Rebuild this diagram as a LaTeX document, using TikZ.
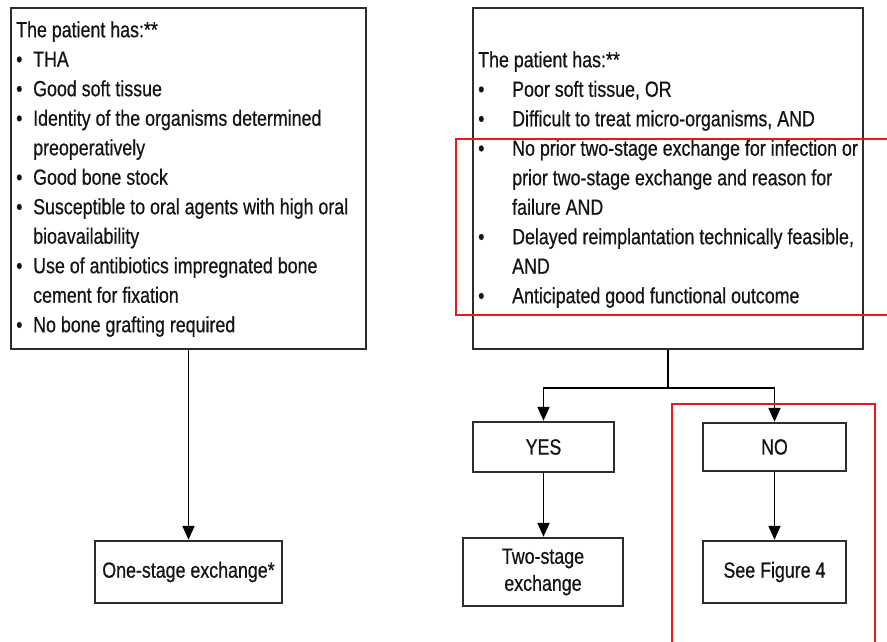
\documentclass[tikz,border=0pt]{standalone}
\usepackage{fontspec}
\setmainfont{Liberation Sans}[FakeStretch=0.81, FakeBold=0.6]
\usepackage{tikz}
\usetikzlibrary{arrows.meta}

\definecolor{boxline}{RGB}{45,45,45}
\definecolor{txt}{RGB}{20,20,20}
\definecolor{mark}{RGB}{238,22,22}

\newlength{\bind}
\newcommand{\listsetup}[1]{\raggedright\spaceskip=0pt\xspaceskip=0pt\hyphenpenalty=10000\relax\setlength{\bind}{#1}}
\newcommand{\bitem}[1]{\par\noindent\hangindent=\bind\hangafter=1\makebox[\bind][l]{\textbullet}#1}

\begin{document}
\begin{tikzpicture}[x=1pt, y=-1pt,
    box/.style={draw=boxline, line width=2.4pt, rectangle, inner sep=0pt},
    listtext/.style={text=txt, inner sep=0pt, anchor=north west, align=left, text width=430,
        font=\fontsize{22}{29.5}\selectfont},
    boxtext/.style={box, text=txt, align=center, font=\fontsize{22}{27}\selectfont},
    arr/.style={draw=black, line width=1.9pt, -{Triangle[length=14pt,width=12pt]}},
    conn/.style={draw=black, line width=1.9pt},
    highlight/.style={draw=mark, line width=2.8pt}]
    \useasboundingbox (0,0) rectangle (887,642);
    \clip (0,0) rectangle (887,642);
    \node[box, minimum width=355, minimum height=341] (crit1) at (188.5,178.5) {};
    \node[listtext] (crit1txt) at (16,16.4) {\listsetup{17pt}\strut The patient has:**
        \bitem{THA}
        \bitem{Good soft tissue}
        \bitem{Identity of the organisms determined\newline preoperatively}
        \bitem{Good bone stock}
        \bitem{Susceptible to oral agents with high oral\newline bioavailability}
        \bitem{Use of antibiotics impregnated bone\newline cement for fixation}
        \bitem{No bone grafting required}};
    \node[box, minimum width=390, minimum height=341] (crit2) at (668,178.5) {};
    \node[listtext] (crit2txt) at (478,46.4) {\listsetup{34pt}\strut The patient has:**
        \bitem{Poor soft tissue, OR}
        \bitem{Difficult to treat micro-organisms, AND}
        \bitem{No prior two-stage exchange for infection or\newline prior two-stage exchange and reason for\newline failure AND}
        \bitem{Delayed reimplantation technically feasible,\newline AND}
        \bitem{Anticipated good functional outcome}};
    \node[boxtext, minimum width=187, minimum height=62] (one) at (188.5,572) {One-stage exchange*};
    \node[boxtext, minimum width=141, minimum height=50] (yes) at (543.5,447) {YES};
    \node[boxtext, minimum width=143, minimum height=48] (no) at (774.5,447) {NO};
    \node[boxtext, minimum width=160, minimum height=68] (two) at (543,572) {Two-stage\\exchange};
    \node[boxtext, minimum width=143, minimum height=62] (fig4) at (774.5,572) {See Figure 4};
    \coordinate (split) at (668,388);
    \draw[arr] (crit1.south) -- (one.north);
    \draw[conn] (crit2.south) -- (split);
    \draw[arr] (split) -| (yes.north);
    \draw[arr] (split) -| (no.north);
    \draw[arr] (yes.south) -- (yes.south |- two.north);
    \draw[arr] (no.south) -- (fig4.north);
    \draw[highlight] (456,139) rectangle (900,315);
    \draw[highlight] (672,404) rectangle (875,660);
\end{tikzpicture}
\end{document}
